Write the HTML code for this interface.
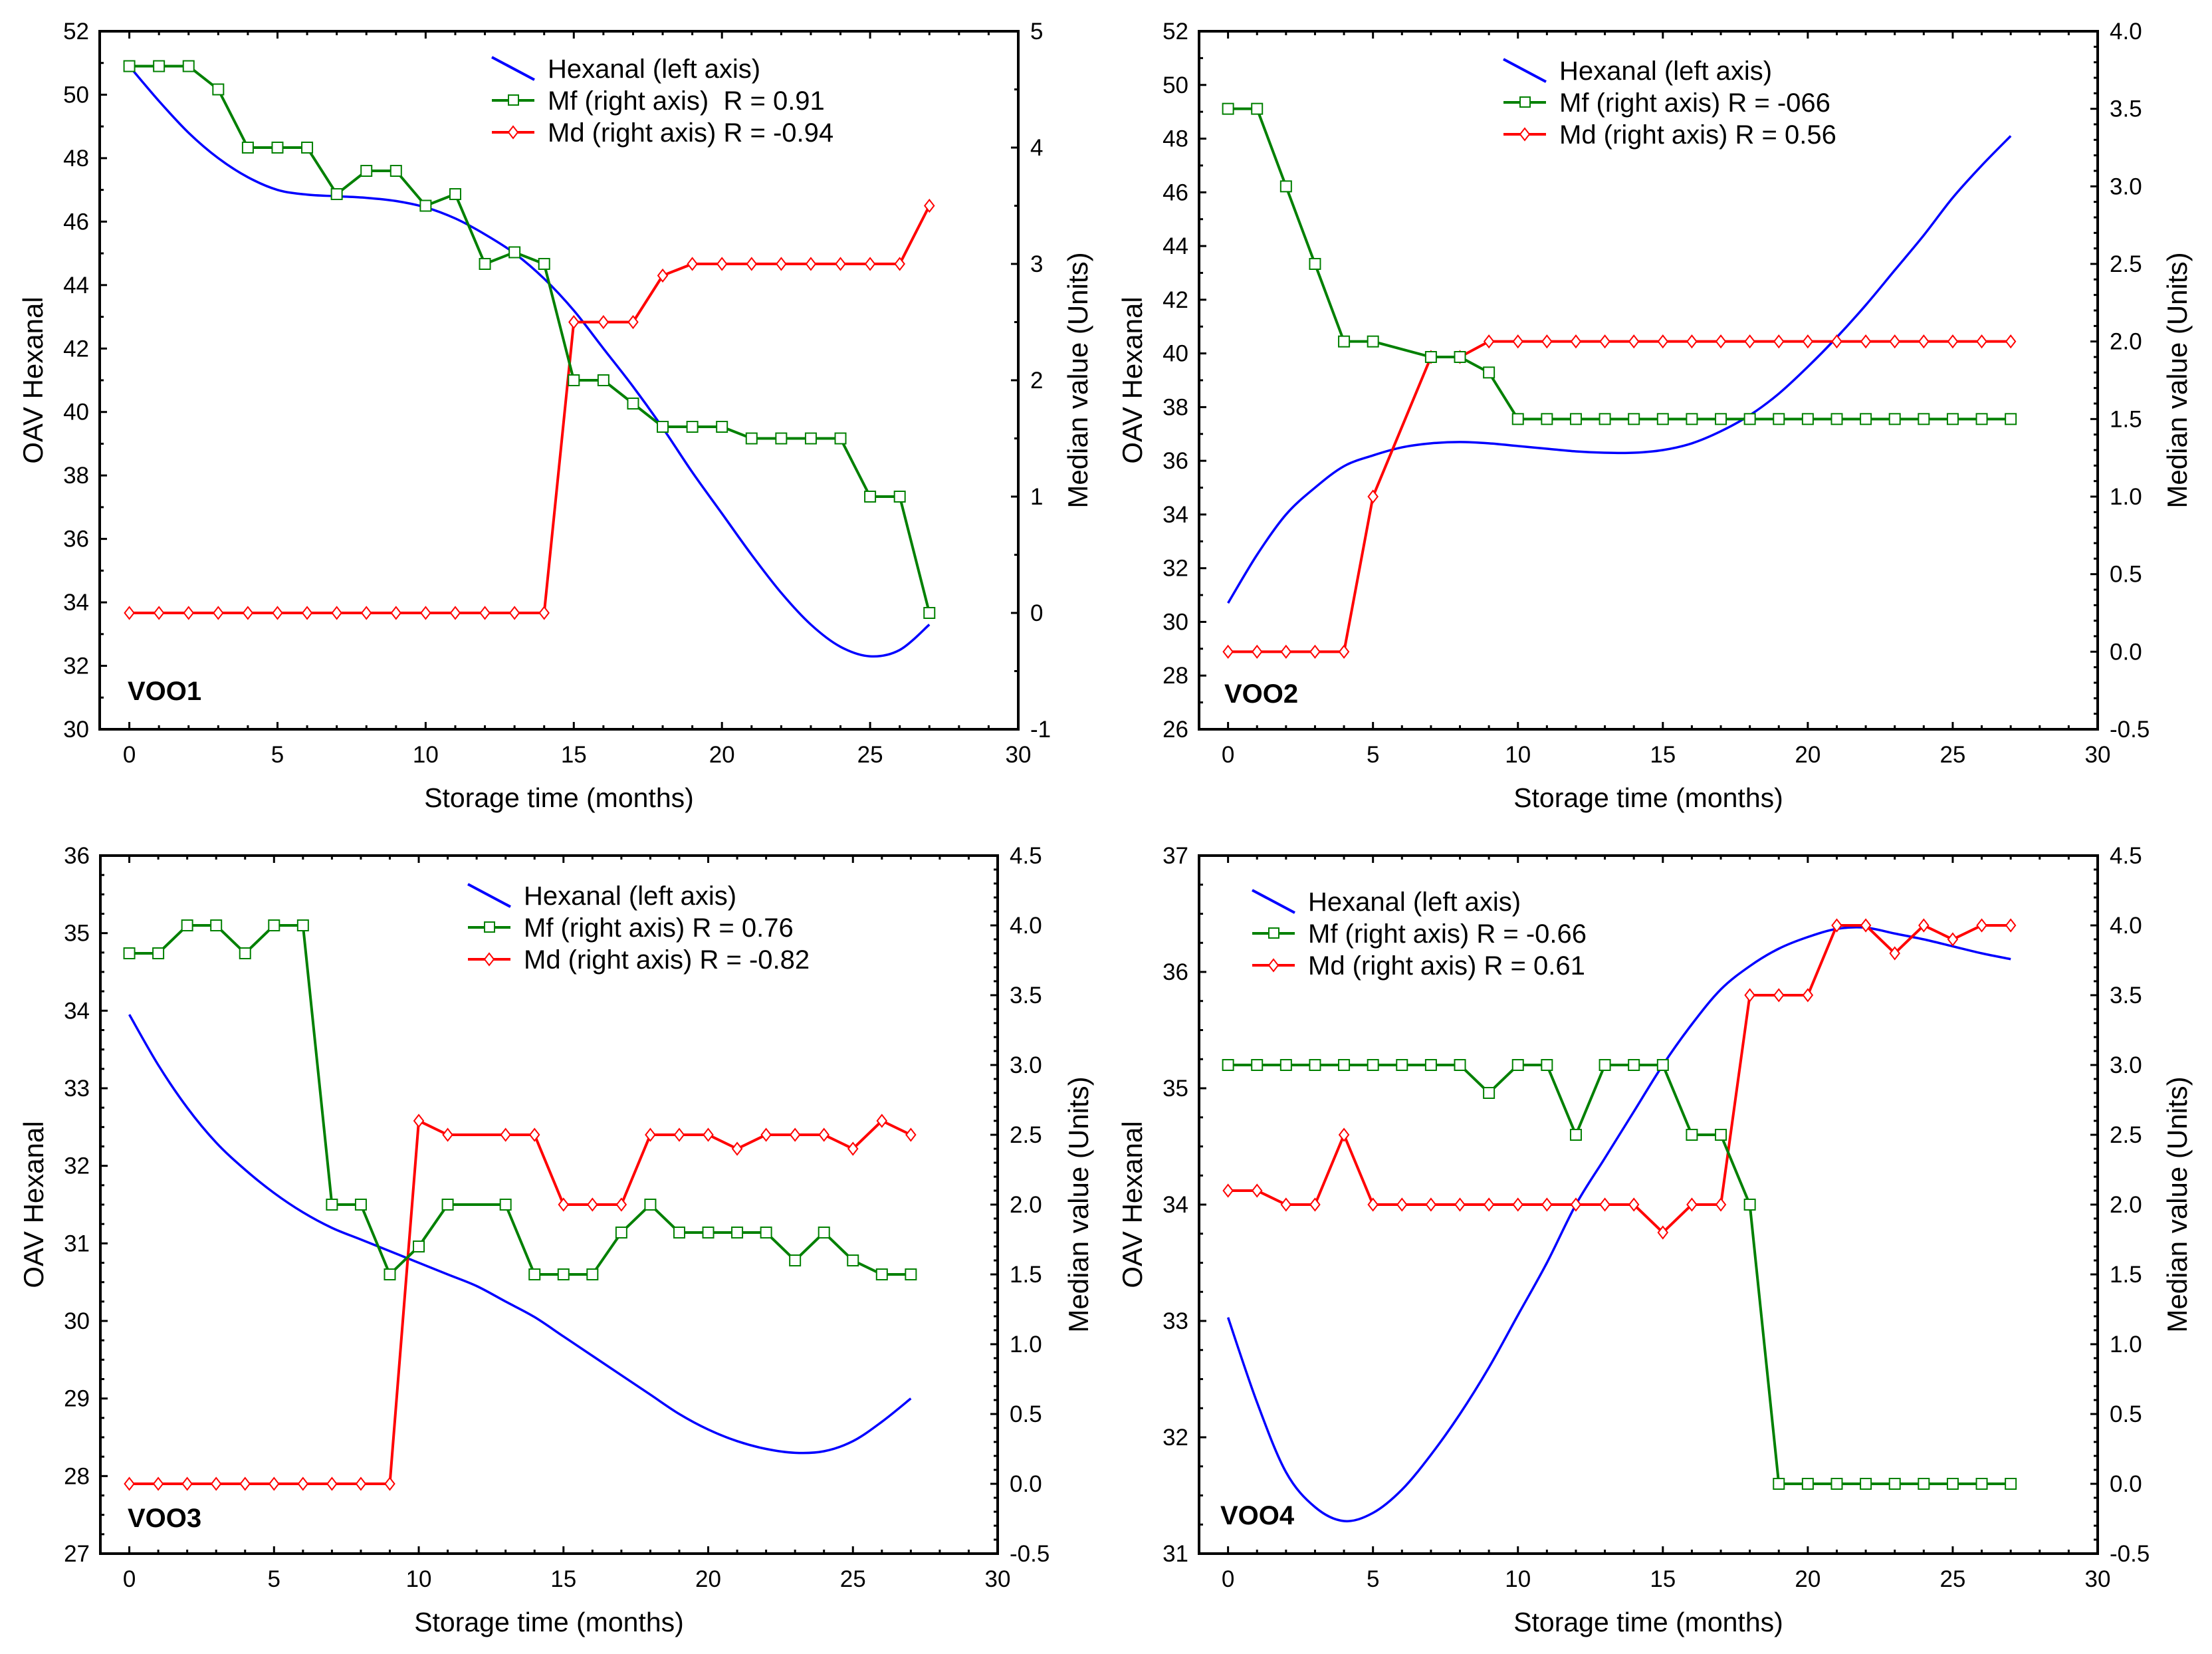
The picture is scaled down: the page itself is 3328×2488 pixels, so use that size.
<!DOCTYPE html>
<html><head><meta charset="utf-8">
<style>
html,body{margin:0;padding:0;background:#fff;}
svg{display:block;}
text{font-family:"Liberation Sans",Arial,sans-serif;fill:#000;}
</style></head>
<body>
<svg id="chart" xmlns="http://www.w3.org/2000/svg" width="3328" height="2488" viewBox="0 0 3328 2488">
<rect x="0" y="0" width="3328" height="2488" fill="#fff"/>
</svg>
<script>
// months
const months = [0,1,2,3,4,5,6,7,8,9,10,11,12,13,14,15,16,17,18,19,20,21,22,23,24,25,26,27];
// VOO1
const hex1 = [50.9,49.8,48.8,48.0,47.4,47.0,46.85,46.8,46.75,46.65,46.45,46.1,45.6,45.0,44.2,43.2,42.0,40.8,39.5,38.1,36.8,35.5,34.3,33.3,32.6,32.3,32.5,33.3];
const mf1 = [4.7,4.7,4.7,4.5,4.0,4.0,4.0,3.6,3.8,3.8,3.5,3.6,3.0,3.1,3.0,2.0,2.0,1.8,1.6,1.6,1.6,1.5,1.5,1.5,1.5,1.0,1.0,0.0];
const md1 = [0,0,0,0,0,0,0,0,0,0,0,0,0,0,0,2.5,2.5,2.5,2.9,3,3,3,3,3,3,3,3,3.5];
// VOO2
const hex2 = [30.7,32.5,34.0,35.0,35.8,36.2,36.5,36.65,36.7,36.65,36.55,36.45,36.35,36.3,36.3,36.4,36.65,37.1,37.7,38.5,39.5,40.6,41.8,43.1,44.4,45.8,47.0,48.1];
const mf2 = [3.5,3.5,3.0,2.5,2.0,2.0,null,1.9,1.9,1.8,1.5,1.5,1.5,1.5,1.5,1.5,1.5,1.5,1.5,1.5,1.5,1.5,1.5,1.5,1.5,1.5,1.5,1.5];
const md2 = [0,0,0,0,0,1.0,null,1.9,1.9,2,2,2,2,2,2,2,2,2,2,2,2,2,2,2,2,2,2,2];
// VOO3
const hex3 = [33.95,33.3,32.75,32.3,31.95,31.65,31.4,31.2,31.05,30.9,30.75,30.6,30.45,30.25,30.05,29.8,29.55,29.3,29.05,28.8,28.6,28.45,28.35,28.3,28.32,28.45,28.7,29.0];
const mf3 = [3.8,3.8,4.0,4.0,3.8,4.0,4.0,2.0,2.0,1.5,1.7,2.0,null,2.0,1.5,1.5,1.5,1.8,2.0,1.8,1.8,1.8,1.8,1.6,1.8,1.6,1.5,1.5];
const md3 = [0,0,0,0,0,0,0,0,0,0,2.6,2.5,null,2.5,2.5,2.0,2.0,2.0,2.5,2.5,2.5,2.4,2.5,2.5,2.5,2.4,2.6,2.5];
// VOO4
const hex4 = [33.03,32.3,31.7,31.4,31.28,31.35,31.55,31.85,32.2,32.6,33.05,33.5,34.0,34.4,34.8,35.2,35.55,35.85,36.05,36.2,36.3,36.37,36.38,36.33,36.28,36.22,36.16,36.11];
const mf4 = [3,3,3,3,3,3,3,3,3,2.8,3,3,2.5,3,3,3,2.5,2.5,2.0,0,0,0,0,0,0,0,0,0];
const md4 = [2.1,2.1,2.0,2.0,2.5,2,2,2,2,2,2,2,2,2,2,1.8,2,2,3.5,3.5,3.5,4.0,4.0,3.8,4.0,3.9,4.0,4.0];
// tick labels
const xTicks = [0,5,10,15,20,25,30];
const leftTicks1 = [30,32,34,36,38,40,42,44,46,48,50,52];
const rightTicks1 = ["-1","0","1","2","3","4","5"];
const leftTicks2 = [26,28,30,32,34,36,38,40,42,44,46,48,50,52];
const rightTicks2 = ["-0.5","0.0","0.5","1.0","1.5","2.0","2.5","3.0","3.5","4.0"];
const leftTicks3 = [27,28,29,30,31,32,33,34,35,36];
const rightTicks34 = ["-0.5","0.0","0.5","1.0","1.5","2.0","2.5","3.0","3.5","4.0","4.5"];
const leftTicks4 = [31,32,33,34,35,36,37];
const legends1 = ["Hexanal (left axis)","Mf (right axis)  R = 0.91","Md (right axis) R = -0.94"];
const legends2 = ["Hexanal (left axis)","Mf (right axis) R = -066","Md (right axis) R = 0.56"];
const legends3 = ["Hexanal (left axis)","Mf (right axis) R = 0.76","Md (right axis) R = -0.82"];
const legends4 = ["Hexanal (left axis)","Mf (right axis) R = -0.66","Md (right axis) R = 0.61"];

const NS = "http://www.w3.org/2000/svg";
const svg = document.getElementById('chart');
function mk(tag, attrs, parent){
  const e = document.createElementNS(NS, tag);
  for (const k in attrs) e.setAttribute(k, attrs[k]);
  (parent||svg).appendChild(e);
  return e;
}

const panels = [
 {id:'voo1',name:'VOO1',L:150,R:1532,T:47,B:1097,ymin:30,ymax:52,ymaj:2,ymin2:1,rmin:-1,rmax:5,rmaj:1,rminor:0.5,lt:leftTicks1,rt:rightTicks1,hex:hex1,mf:mf1,md:md1,leg:legends1,legX:740,legY:103,lab:[192,1053],rOff:104},
 {id:'voo2',name:'VOO2',L:1804,R:3156,T:47,B:1097,ymin:26,ymax:52,ymaj:2,ymin2:1,rmin:-0.5,rmax:4.0,rmaj:0.5,rminor:0.1,lt:leftTicks2,rt:rightTicks2,hex:hex2,mf:mf2,md:md2,leg:legends2,legX:2262,legY:106,lab:[1842,1057],rOff:134},
 {id:'voo3',name:'VOO3',L:151,R:1501,T:1287,B:2337,ymin:27,ymax:36,ymaj:1,ymin2:0.25,rmin:-0.5,rmax:4.5,rmaj:0.5,rminor:0.1,lt:leftTicks3,rt:rightTicks34,hex:hex3,mf:mf3,md:md3,leg:legends3,legX:704,legY:1347,lab:[192,2297],rOff:136},
 {id:'voo4',name:'VOO4',L:1804,R:3156,T:1287,B:2337,ymin:31,ymax:37,ymaj:1,ymin2:0.25,rmin:-0.5,rmax:4.5,rmaj:0.5,rminor:0.1,lt:leftTicks4,rt:rightTicks34,hex:hex4,mf:mf4,md:md4,leg:legends4,legX:1884,legY:1356,lab:[1836,2293],rOff:134}
];

panels.forEach(p=>{
  const g = mk('g',{});
  
  
  const xs = v => p.L + (v - (-1)) / 31 * (p.R - p.L);
  const ys = v => p.B - (v - p.ymin) / (p.ymax - p.ymin) * (p.B - p.T);
  const rs = v => p.B - (v - p.rmin) / (p.rmax - p.rmin) * (p.B - p.T);

  const tg = mk('g',{stroke:'#000','stroke-width':3},g);
  
  
  for (let m=0;m<=30;m++){
    const x = xs(m), len = (m%5===0)?11:6;
    mk('line',{x1:x,y1:p.B,x2:x,y2:p.B-len},tg);
    mk('line',{x1:x,y1:p.T,x2:x,y2:p.T+len},tg);
  }
  const nL = Math.round((p.ymax-p.ymin)/p.ymin2);
  for (let i=0;i<=nL;i++){
    const v = p.ymin + i*p.ymin2;
    const maj = Math.abs(v/p.ymaj - Math.round(v/p.ymaj))<1e-6;
    mk('line',{x1:p.L,y1:ys(v),x2:p.L+(maj?11:6),y2:ys(v)},tg);
  }
  const nR = Math.round((p.rmax-p.rmin)/p.rminor);
  for (let i=0;i<=nR;i++){
    const v = p.rmin + i*p.rminor;
    const maj = Math.abs(v/p.rmaj - Math.round(v/p.rmaj))<1e-6;
    mk('line',{x1:p.R,y1:rs(v),x2:p.R-(maj?11:6),y2:rs(v)},tg);
  }
  const fr = mk('rect',{x:p.L,y:p.T,width:p.R-p.L,height:p.B-p.T,fill:'none',stroke:'#000','stroke-width':4},g);
  
  

  xTicks.forEach(t=>{
    const e = mk('text',{x:xs(t),y:p.B+50,'font-size':35,'text-anchor':'middle'},g);
    e.textContent = t;
    
    
  });
  p.lt.forEach(t=>{
    const e = mk('text',{x:p.L-16,y:ys(t)+12,'font-size':35,'text-anchor':'end'},g);
    e.textContent = t;
    
    
  });
  p.rt.forEach(t=>{
    const e = mk('text',{x:p.R+18,y:rs(parseFloat(t))+12,'font-size':35,'text-anchor':'start'},g);
    e.textContent = t;
    
    
  });
  const cx = (p.L+p.R)/2, cy=(p.T+p.B)/2;
  let e = mk('text',{x:cx,y:p.B+117,'font-size':41,'text-anchor':'middle'},g);
  e.textContent = 'Storage time (months)';
  
  
  const lx = p.L - 86;
  e = mk('text',{x:lx,y:cy,'font-size':42,'text-anchor':'middle',transform:`rotate(-90 ${lx} ${cy})`},g);
  e.textContent = 'OAV Hexanal';
  
  
  const rx = p.R + p.rOff;
  e = mk('text',{x:rx,y:cy,'font-size':42,'text-anchor':'middle',transform:`rotate(-90 ${rx} ${cy})`},g);
  e.textContent = 'Median value (Units)';
  
  
  e = mk('text',{x:p.lab[0],y:p.lab[1],'font-size':40,'font-weight':'bold'},g);
  e.textContent = p.name;
  
  

  const pts = months.map((m,i)=>[xs(m),ys(p.hex[i])]);
  let d = `M${pts[0][0]},${pts[0][1]}`;
  for (let i=0;i<pts.length-1;i++){
    const p0=pts[Math.max(0,i-1)],p1=pts[i],p2=pts[i+1],p3=pts[Math.min(pts.length-1,i+2)];
    d += ` C${p1[0]+(p2[0]-p0[0])/6},${p1[1]+(p2[1]-p0[1])/6} ${p2[0]-(p3[0]-p1[0])/6},${p2[1]-(p3[1]-p1[1])/6} ${p2[0]},${p2[1]}`;
  }
  e = mk('path',{d:d,fill:'none',stroke:'#0000ff','stroke-width':3.5},g);
  
  

  function series(vals,color,shape,nm){
    const sg = mk('g',{},g);
    
    
    let dd='', first=true;
    months.forEach((m,i)=>{
      if (vals[i]===null) return;
      dd += (first?'M':'L')+xs(m)+','+rs(vals[i])+' ';
      first=false;
    });
    mk('path',{d:dd,fill:'none',stroke:color,'stroke-width':4},sg);
    months.forEach((m,i)=>{
      if (vals[i]===null) return;
      const x=xs(m), y=rs(vals[i]);
      let mkr;
      if (shape==='sq') mkr = mk('rect',{x:x-8,y:y-8,width:16,height:16,fill:'#fff',stroke:color,'stroke-width':2},sg);
      else mkr = mk('path',{d:`M${x},${y-9} L${x+7},${y} L${x},${y+9} L${x-7},${y} Z`,fill:'#fff',stroke:color,'stroke-width':2},sg);
      
      
    });
  }
  series(p.md,'#ff0000','di','md');
  series(p.mf,'#008000','sq','mf');

  const lg = mk('g',{},g);
  
  
  const x0 = p.legX, x1 = p.legX+64, y0 = p.legY;
  mk('line',{x1:x0,y1:y0-17,x2:x1,y2:y0+17,stroke:'#0000ff','stroke-width':4},lg);
  mk('line',{x1:x0,y1:y0+48,x2:x1,y2:y0+48,stroke:'#008000','stroke-width':4},lg);
  mk('rect',{x:x0+25,y:y0+40,width:15,height:15,fill:'#fff',stroke:'#008000','stroke-width':2},lg);
  mk('line',{x1:x0,y1:y0+96,x2:x1,y2:y0+96,stroke:'#ff0000','stroke-width':4},lg);
  mk('path',{d:`M${x0+32},${y0+87} L${x0+39},${y0+96} L${x0+32},${y0+105} L${x0+25},${y0+96} Z`,fill:'#fff',stroke:'#ff0000','stroke-width':2},lg);
  p.leg.forEach((t,i)=>{
    const te = mk('text',{x:x0+84,y:y0+14+i*48,'font-size':40},lg);
    te.setAttribute('style','white-space:pre');
    te.textContent = t;
    
    
  });
});
</script>
</body></html>
